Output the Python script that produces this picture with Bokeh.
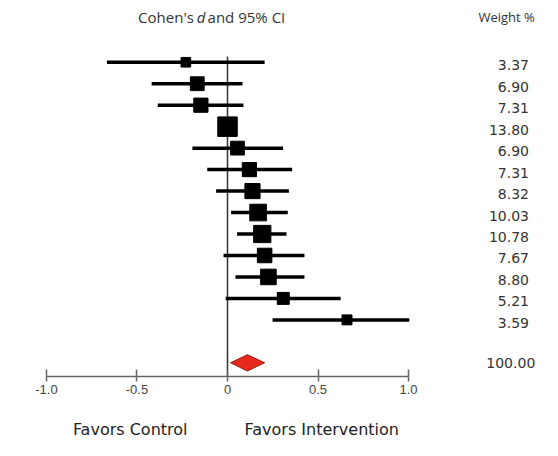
from bokeh.plotting import figure
from bokeh.models import Range1d, LinearAxis, FixedTicker
from bokeh.core.properties import value
from bokeh.embed import file_html
from bokeh.resources import INLINE

# ---- data ----
studies = list(range(1, 14))
cohens_d = [-0.230, -0.167, -0.147, 0.000, 0.055, 0.121, 0.138, 0.169, 0.192, 0.205, 0.226, 0.308, 0.660]
ci_low = [-0.666, -0.419, -0.385, -0.050, -0.194, -0.112, -0.063, 0.020, 0.053, -0.022, 0.044, -0.010, 0.249]
ci_high = [0.205, 0.083, 0.088, 0.050, 0.307, 0.357, 0.339, 0.333, 0.326, 0.425, 0.425, 0.625, 1.004]
weights = [3.37, 6.90, 7.31, 13.80, 6.90, 7.31, 8.32, 10.03, 10.78, 7.67, 8.80, 5.21, 3.59]
weight_labels = ["3.37", "6.90", "7.31", "13.80", "6.90", "7.31", "8.32", "10.03", "10.78", "7.67", "8.80", "5.21", "3.59"]
pooled_row = 15
pooled_d = 0.110
pooled_low = 0.017
pooled_high = 0.205
pooled_weight_label = "100.00"
ticks = [-1.0, -0.5, 0.0, 0.5, 1.0]
tick_labels = ["-1.0", "-0.5", "0", "0.5", "1.0"]

W, H = 542, 440
Y_TOP, Y_BOTTOM = -1.876, 18.618
AXIS_ROW = 15.637
p = figure(width=W, height=H, output_backend="svg", toolbar_location=None,
           x_range=Range1d(-1.2538, 1.7398), y_range=Range1d(Y_BOTTOM, Y_TOP),
           x_axis_location=None, y_axis_location=None,
           min_border_left=0, min_border_right=0, min_border_top=0, min_border_bottom=0)
p.outline_line_color = None
p.xgrid.visible = False
p.ygrid.visible = False
p.background_fill_color = "white"
p.border_fill_color = "white"

axis = LinearAxis(ticker=FixedTicker(ticks=ticks),
                  major_label_overrides=dict(zip(ticks, tick_labels)),
                  fixed_location=AXIS_ROW)
axis.bounds = (-1.0, 1.0)
axis.axis_line_color = "#666666"
axis.axis_line_width = 1.5
axis.major_tick_line_color = "#666666"
axis.major_tick_line_width = 1.5
axis.major_tick_in = 7
axis.major_tick_out = 5
axis.minor_tick_line_color = None
axis.major_label_standoff = 4
axis.major_label_text_font = "Liberation Sans"
axis.major_label_text_font_size = "13px"
axis.major_label_text_color = "#444444"
p.add_layout(axis, "below")

# zero line
p.segment(x0=[0], y0=[0.73], x1=[0], y1=[AXIS_ROW], line_color="#333333", line_width=1.5)

# confidence intervals and point estimates
p.segment(x0=ci_low, y0=studies, x1=ci_high, y1=studies, line_color="black", line_width=3.5)
sizes = [5.25 * (w ** 0.5) for w in weights]
p.scatter(x=cohens_d, y=studies, marker="square", size=sizes, fill_color="black", line_color="black")

# pooled diamond
h = 0.38
p.patch(x=[pooled_low, pooled_d, pooled_high, pooled_d],
        y=[pooled_row, pooled_row - h, pooled_row, pooled_row + h],
        fill_color="#e82a1c", line_color="#9a1a10", line_width=1)

# weights column
p.text(x=[1.665] * len(studies), y=studies, text=weight_labels, text_align="right",
       text_baseline="middle", y_offset=3, text_font=value("DejaVu Sans"),
       text_font_size="14px", text_color="#333333")
p.text(x=[1.70], y=[pooled_row], text=[pooled_weight_label], text_align="right",
       text_baseline="middle", text_font=value("DejaVu Sans"),
       text_font_size="14px", text_color="#333333")

# headers
hy = -1.09
p.text(x=[-0.186], y=[hy], text=["Cohen's"], text_align="right", text_baseline="middle",
       text_font=value("Open Sans"), text_font_size="15px", text_color="#333333")
p.text(x=[-0.146], y=[hy], text=["d"], text_align="center", text_baseline="middle",
       text_font=value("Open Sans"), text_font_style="italic", text_font_size="15px", text_color="#333333")
p.text(x=[-0.110], y=[hy], text=["and 95% CI"], text_align="left", text_baseline="middle",
       text_font=value("Open Sans"), text_font_size="15px", text_color="#333333")
p.text(x=[1.386], y=[hy], text=["Weight %"], text_align="left", text_baseline="middle",
       text_font=value("Open Sans"), text_font_size="13px", text_color="#333333")

# favors labels
p.text(x=[-0.854, 0.094], y=[18.12, 18.12], text=["Favors Control", "Favors Intervention"],
       text_align="left", text_baseline="middle", text_font=value("DejaVu Sans"),
       text_font_size="16px", text_color="#222222")

open("out.html", "w").write(file_html(p, INLINE))
